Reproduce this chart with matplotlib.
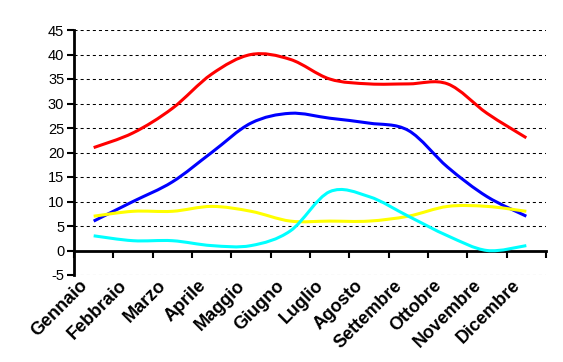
import numpy as np
import matplotlib.pyplot as plt
from matplotlib.path import Path
from matplotlib.patches import PathPatch
from matplotlib.transforms import ScaledTranslation

plt.rcParams['font.family'] = ['Liberation Sans', 'DejaVu Sans']
plt.rcParams['lines.scale_dashes'] = False
plt.rcParams['axes.unicode_minus'] = False

# ---------------- DATA ----------------
months = ['Gennaio', 'Febbraio', 'Marzo', 'Aprile', 'Maggio', 'Giugno',
          'Luglio', 'Agosto', 'Settembre', 'Ottobre', 'Novembre', 'Dicembre']
red_vals = [21, 24, 29, 36, 40, 39, 35, 34, 34, 34, 28, 23]
blue_vals = [6, 10, 14, 20, 26, 28, 27, 26, 24.5, 17, 11, 7]
yellow_vals = [7, 8, 8, 9, 8, 6, 6, 6, 7, 9, 9, 8]
cyan_vals = [3, 2, 2, 1, 1, 4, 12, 11, 7, 3, 0, 1]
y_ticks = list(range(-5, 50, 5))


def smooth_path(vals):
    # Excel-style smoothed line: cubic bezier through every data point
    pts = np.column_stack([np.arange(len(vals), dtype=float), vals])
    n = len(pts)
    verts = [pts[0]]
    codes = [Path.MOVETO]
    for i in range(n - 1):
        p0 = pts[max(i - 1, 0)]
        p1 = pts[i]
        p2 = pts[i + 1]
        p3 = pts[min(i + 2, n - 1)]
        verts += [p1 + (p2 - p0) / 6, p2 - (p3 - p1) / 6, p2]
        codes += [Path.CURVE4] * 3
    return Path(verts, codes)


fig = plt.figure(figsize=(5.63, 3.62), dpi=100)
ax = fig.add_axes([74 / 563, 1 - 275 / 362, (546 - 74) / 563, (275 - 30) / 362])

ax.set_xlim(-0.5, len(months) - 0.5)
ax.set_ylim(-5, 45)

for vals, col in [(red_vals, '#ff0000'), (blue_vals, '#0000ff'),
                  (yellow_vals, '#ffff00'), (cyan_vals, '#00ffff')]:
    ax.add_patch(PathPatch(smooth_path(vals), fill=False, edgecolor=col,
                           lw=2.2, zorder=3))

# grid
ax.set_yticks(y_ticks)
ax.yaxis.grid(True, linestyle=(0, (2.2, 2.2)), color='black', lw=0.75)
ax.set_axisbelow(True)

# spines
for s in ['top', 'right']:
    ax.spines[s].set_visible(False)
ax.spines['left'].set_linewidth(2)
ax.spines['bottom'].set_position(('data', 0))
ax.spines['bottom'].set_linewidth(2)

ax.tick_params(axis='y', direction='out', length=5, width=1.5, labelsize=10.5, pad=2)
ax.set_xticks(np.arange(len(months) + 1) - 0.5)
ax.set_xticklabels([])
ax.tick_params(axis='x', direction='out', length=5, width=1.5)

# month labels at the bottom of the plot area
off = ScaledTranslation(-8.5 / 100, -8 / 100, fig.dpi_scale_trans)
for i, m in enumerate(months):
    ax.text(i, -5, m, transform=ax.transData + off, rotation=45,
            rotation_mode='anchor', ha='right', va='center',
            fontsize=13, fontweight='bold')

fig.savefig('out.png', dpi=100)
